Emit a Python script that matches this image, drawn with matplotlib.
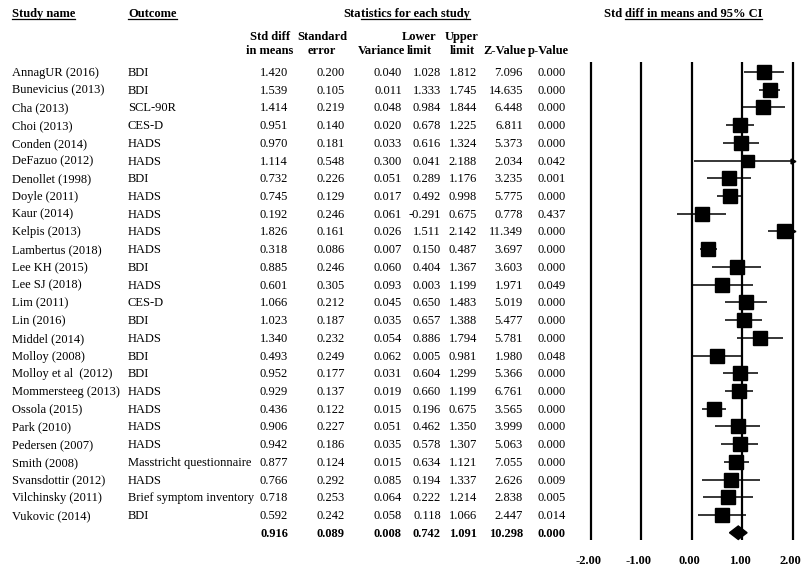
import matplotlib.pyplot as plt
from matplotlib.lines import Line2D
from matplotlib.patches import Polygon
import numpy as np

# per-study statistics
studies = ["AnnagUR (2016)", "Bunevicius (2013)", "Cha (2013)", "Choi (2013)", "Conden (2014)",
           "DeFazuo (2012)", "Denollet (1998)", "Doyle (2011)", "Kaur (2014)", "Kelpis (2013)",
           "Lambertus (2018)", "Lee KH (2015)", "Lee SJ (2018)", "Lim (2011)", "Lin (2016)",
           "Middel (2014)", "Molloy (2008)", "Molloy et al  (2012)", "Mommersteeg (2013)",
           "Ossola (2015)", "Park (2010)", "Pedersen (2007)", "Smith (2008)",
           "Svansdottir (2012)", "Vilchinsky (2011)", "Vukovic (2014)"]
outcomes = ["BDI", "BDI", "SCL-90R", "CES-D", "HADS", "HADS", "BDI", "HADS", "HADS", "HADS",
            "HADS", "BDI", "HADS", "CES-D", "BDI", "HADS", "BDI", "BDI", "HADS", "HADS",
            "HADS", "HADS", "Masstricht questionnaire", "HADS", "Brief symptom inventory", "BDI"]
smd = [1.420, 1.539, 1.414, 0.951, 0.970, 1.114, 0.732, 0.745, 0.192, 1.826, 0.318, 0.885, 0.601,
       1.066, 1.023, 1.340, 0.493, 0.952, 0.929, 0.436, 0.906, 0.942, 0.877, 0.766, 0.718, 0.592]
se = [0.200, 0.105, 0.219, 0.140, 0.181, 0.548, 0.226, 0.129, 0.246, 0.161, 0.086, 0.246, 0.305,
      0.212, 0.187, 0.232, 0.249, 0.177, 0.137, 0.122, 0.227, 0.186, 0.124, 0.292, 0.253, 0.242]
variance = [0.040, 0.011, 0.048, 0.020, 0.033, 0.300, 0.051, 0.017, 0.061, 0.026, 0.007, 0.060,
            0.093, 0.045, 0.035, 0.054, 0.062, 0.031, 0.019, 0.015, 0.051, 0.035, 0.015, 0.085,
            0.064, 0.058]
lower = [1.028, 1.333, 0.984, 0.678, 0.616, 0.041, 0.289, 0.492, -0.291, 1.511, 0.150, 0.404, 0.003,
         0.650, 0.657, 0.886, 0.005, 0.604, 0.660, 0.196, 0.462, 0.578, 0.634, 0.194, 0.222, 0.118]
upper = [1.812, 1.745, 1.844, 1.225, 1.324, 2.188, 1.176, 0.998, 0.675, 2.142, 0.487, 1.367, 1.199,
         1.483, 1.388, 1.794, 0.981, 1.299, 1.199, 0.675, 1.350, 1.307, 1.121, 1.337, 1.214, 1.066]
zval = [7.096, 14.635, 6.448, 6.811, 5.373, 2.034, 3.235, 5.775, 0.778, 11.349, 3.697, 3.603, 1.971,
        5.019, 5.477, 5.781, 1.980, 5.366, 6.761, 3.565, 3.999, 5.063, 7.055, 2.626, 2.838, 2.447]
pval = [0.000, 0.000, 0.000, 0.000, 0.000, 0.042, 0.001, 0.000, 0.437, 0.000, 0.000, 0.000, 0.049,
        0.000, 0.000, 0.000, 0.048, 0.000, 0.000, 0.000, 0.000, 0.000, 0.000, 0.009, 0.005, 0.014]

# pooled (random effects) result
pooled = [0.916, 0.089, 0.008, 0.742, 1.091, 10.298, 0.000]

col_heads = [("Std diff", "in means"), ("Standard", "error"), ("", "Variance"),
             ("Lower", "limit"), ("Upper", "limit"), ("", "Z-Value"), ("", "p-Value")]
ticks = [-2, -1, 0, 1, 2]

plt.rcParams['font.family'] = ['Liberation Serif', 'DejaVu Serif']
FS = 9.0

W, H = 803, 572
ROW0, STEP = 72.0, 17.72
BASE = 4.0 / STEP   # baseline sits ~4px below the row centre


def row_of(px):
    return (px - ROW0) / STEP


def put(ax, x, y, s, **kw):
    """Text drawn on a fixed baseline so every row lines up."""
    return ax.text(x, y + BASE, s, fontsize=kw.pop('fontsize', FS), va='baseline', **kw)


fig = plt.figure(figsize=(W / 100, H / 100), dpi=100)
tax = fig.add_axes([0, 0, 1, 1])
tax.set_xlim(0, W)
tax.set_ylim(row_of(H), row_of(0))
tax.axis('off')

fax = fig.add_axes([580.9 / W, 0, (803.1 - 580.9) / W, 1])
fax.set_xlim(-2.2, 2.2)
fax.set_ylim(row_of(H), row_of(0))
fax.axis('off')

n = len(studies)
rows = np.arange(n)

# table body
value_right = [288, 345, 402, 441, 477, 523, 566]
head_center = [270, 322, 380, 419, 462, 509, 548]
for i in range(n):
    put(tax, 12, i, studies[i], ha='left')
    put(tax, 128, i, outcomes[i], ha='left')
    vals = [smd[i], se[i], variance[i], lower[i], upper[i], zval[i], pval[i]]
    for x, v in zip(value_right, vals):
        put(tax, x, i, f"{v:.3f}", ha='right')
for x, v in zip(value_right, pooled):
    put(tax, x, n, f"{v:.3f}", ha='right', fontweight='bold')

# column headers
for (l1, l2), xc, xr in zip(col_heads, head_center, value_right):
    if l1:
        put(tax, xc, row_of(36), l1, ha='center', fontweight='bold')
    put(tax, xc if l1 else xr + 3, row_of(50), l2,
        ha='center' if l1 else 'right', fontweight='bold')

# top headers, some with partial underline
fig.canvas.draw()
renderer = fig.canvas.get_renderer()
to_fig = fig.transFigure.inverted()
px_per_row = tax.transData.transform((0, 0))[1] - tax.transData.transform((0, 1))[1]


def header(x, pieces, ha='left'):
    """Draw bold header pieces in a row; underline pieces flagged True."""
    y = row_of(13)
    texts = []
    cx = x
    for s, _ in pieces:
        t = put(tax, cx, y, s, ha='left', fontweight='bold')
        bb = t.get_window_extent(renderer)
        cx += bb.width
        texts.append(t)
    if ha == 'center':
        shift = (cx - x) / 2
        for t in texts:
            t.set_x(t.get_position()[0] - shift)
    base_px = tax.transData.transform((0, y + BASE))[1]
    for t, (_, ul) in zip(texts, pieces):
        if not ul:
            continue
        bb = t.get_window_extent(renderer)
        x0, y0 = to_fig.transform((bb.x0, base_px - 2))
        x1, _ = to_fig.transform((bb.x1, base_px - 2))
        fig.add_artist(Line2D([x0, x1], [y0, y0], color='black', lw=0.9))


header(12, [("Study name", True)])
header(128, [("Outcome", True)])
header(407, [("Sta", False), ("tistics for each study", True)], ha='center')
header(683, [("Std ", False), ("diff in means and 95% CI", True)], ha='center')

# forest plot: reference lines
fax.vlines(ticks, row_of(62), row_of(540), color='black', lw=1.6)
for t in ticks:
    put(fax, t - 0.05, row_of(560), f"{t:.2f}", ha='center', fontweight='bold')

# random-effects weights (DerSimonian-Laird) for square sizes
y = np.array(smd)
v = np.array(variance)
w = 1 / v
ybar = np.sum(w * y) / np.sum(w)
Q = np.sum(w * (y - ybar) ** 2)
C = np.sum(w) - np.sum(w ** 2) / np.sum(w)
tau2 = max(0.0, (Q - (n - 1)) / C)
wr = 1 / (v + tau2)
sizes = 8.0 + 2.0 * np.sqrt(wr / wr.max())

lo = np.clip(lower, -2, 2)
hi = np.clip(upper, -2, 2)
fax.hlines(rows, lo, hi, color='black', lw=1.1)
for i in range(n):
    fax.plot(smd[i], i, marker='s', ms=sizes[i], color='black', mec='black')
    if upper[i] > 2:
        fax.plot(2, i, marker='>', ms=3.5, color='black')

# summary diamond
srow = n
d = Polygon([(pooled[3], srow), (pooled[0], srow - 0.38), (pooled[4], srow), (pooled[0], srow + 0.38)],
            closed=True, color='black')
fax.add_patch(d)

fig.savefig("out.png", dpi=100)
